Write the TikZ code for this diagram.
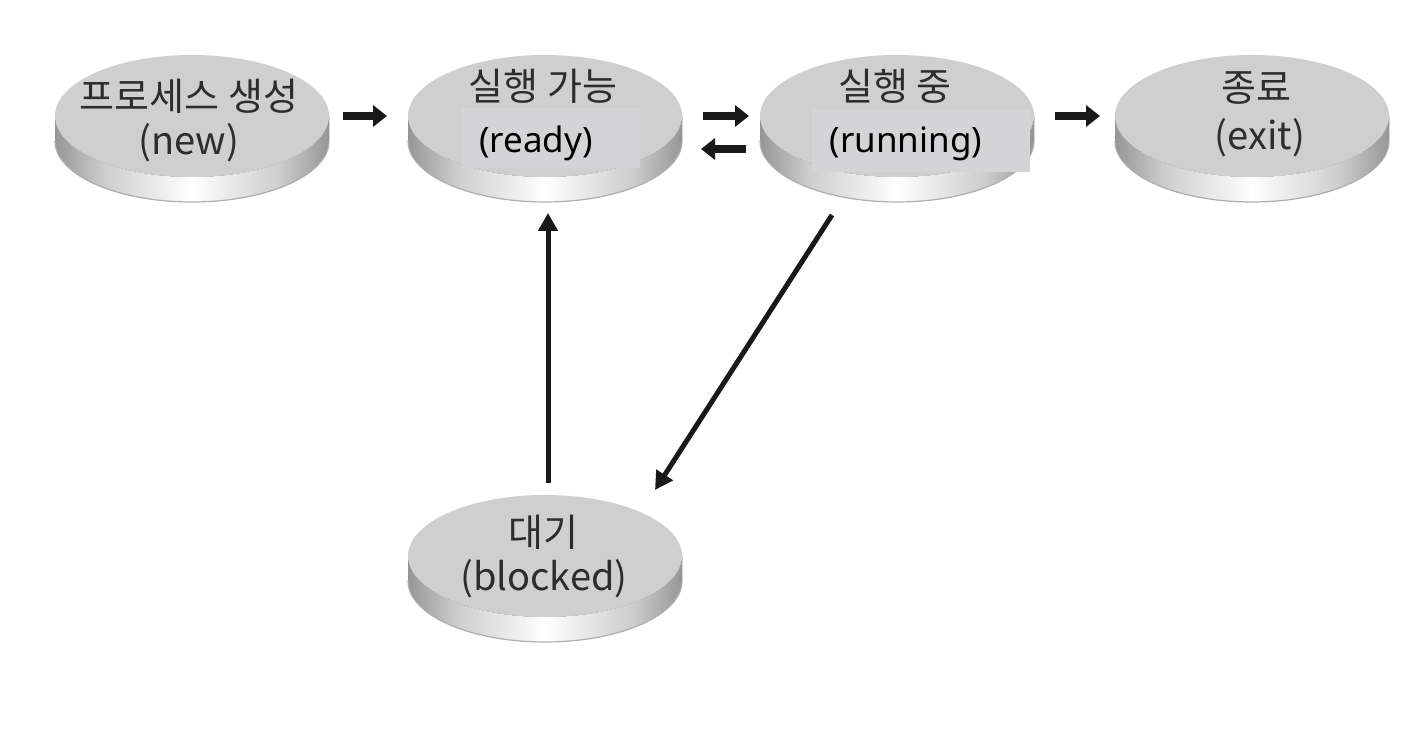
\documentclass[tikz,border=0pt]{standalone}
\usepackage{fontspec}
\setmainfont{Noto Sans CJK KR}
\newfontfamily\latinfont{Noto Sans}
\usetikzlibrary{shapes.geometric,arrows.meta,positioning,backgrounds}

\definecolor{discgray}{RGB}{207,207,207}
\definecolor{patchgray}{RGB}{212,211,213}
\definecolor{rimdark}{RGB}{150,150,150}
\definecolor{rimmid}{RGB}{205,205,205}
\definecolor{rimedge}{RGB}{175,175,175}
\definecolor{labelgray}{RGB}{45,45,45}
\pgfdeclarehorizontalshading{rimshade}{100bp}{color(0bp)=(rimdark); color(25bp)=(rimdark); color(34bp)=(rimmid); color(50bp)=(white); color(66bp)=(rimmid); color(75bp)=(rimdark); color(100bp)=(rimdark)}

\begin{document}
\begin{tikzpicture}[
    x=1pt, y=1pt,
    disc/.style={ellipse, fill=discgray, minimum width=274pt, minimum height=122pt, inner sep=0pt, outer sep=0pt},
    kr/.style={font=\fontsize{38}{44}\selectfont, text=labelgray, inner sep=0pt},
    en/.style={font=\fontsize{38}{44}\selectfont, text=labelgray, inner sep=0pt},
    enbold/.style={font=\latinfont\fontsize{35}{40}\selectfont, text=black, inner sep=0pt},
    patch/.style={rectangle, fill=patchgray, inner sep=0pt},
    move/.style={-{Triangle[length=14pt,width=21pt]}, line width=8pt, black!90},
    trans/.style={-{Triangle[length=18pt,width=19pt]}, line width=5pt, black!90}
]
\useasboundingbox (0,0) rectangle (1411,743);

% discs
\node[disc] (new) at (192,627) {};
\node[disc, right=79pt of new] (ready) {};
\node[disc, right=78pt of ready] (running) {};
\node[disc, right=81pt of running] (exit) {};
\node[disc, below=318pt of ready] (blocked) {};

\begin{scope}[on background layer]
\fill[white] (0,0) rectangle (1411,743);
\foreach \n in {new,ready,running,exit,blocked} {
    \fill[shading=rimshade] (\n.west) -- ++(0,-25) arc[start angle=180, end angle=360, x radius=137, y radius=61]
        -- (\n.east) arc[start angle=0, end angle=-180, x radius=137, y radius=61] -- cycle;
    \draw[rimedge, line width=1.2pt] ([yshift=-25pt]\n.west) arc[start angle=180, end angle=360, x radius=137, y radius=61];
}
\end{scope}

% patches behind the english labels
\node[patch, minimum width=178pt, minimum height=60pt] (readypatch) at ([shift={(6,-22)}]ready.center) {};
\node[patch, minimum width=218pt, minimum height=62pt] (runningpatch) at ([shift={(24,-25)}]running.center) {};

% labels
\node[kr] (newkr) at ([shift={(-3,20)}]new.center) {프로세스 생성};
\node[en] (newen) at ([shift={(-3,-27)}]new.center) {(new)};
\node[kr] (readykr) at ([shift={(-2,30)}]ready.center) {실행 가능};
\node[enbold] (readyen) at ([shift={(-9,-27)}]ready.center) {(ready)};
\node[kr] (runningkr) at ([shift={(-2,30)}]running.center) {실행 중};
\node[enbold] (runningen) at ([shift={(9,-28)}]running.center) {(running)};
\node[kr] (exitkr) at ([shift={(4,28)}]exit.center) {종료};
\node[en] (exiten) at ([shift={(8,-22)}]exit.center) {(exit)};
\node[kr] (blockedkr) at ([shift={(-2,24)}]blocked.center) {대기};
\node[en] (blockeden) at ([shift={(-1,-23)}]blocked.center) {(blocked)};

% transitions
\draw[move, shorten <=14pt, shorten >=21pt] (new) -- (ready);
\draw[move, shorten <=21pt, shorten >=11pt] (ready) -- (running);
\draw[move, shorten <=14pt, shorten >=19pt] ([yshift=-33pt]running.west) -- ([yshift=-33pt]ready.east);
\draw[move, shorten <=21pt, shorten >=15pt] (running) -- (exit);
\draw[trans, shorten <=12pt, shorten >=36pt] ([xshift=3pt]blocked.north) -- ([xshift=3pt]ready.south);
\draw[trans] ([shift={(-65pt,-38pt)}]running.south) -- ([shift={(110pt,5pt)}]blocked.north);
\end{tikzpicture}
\end{document}
